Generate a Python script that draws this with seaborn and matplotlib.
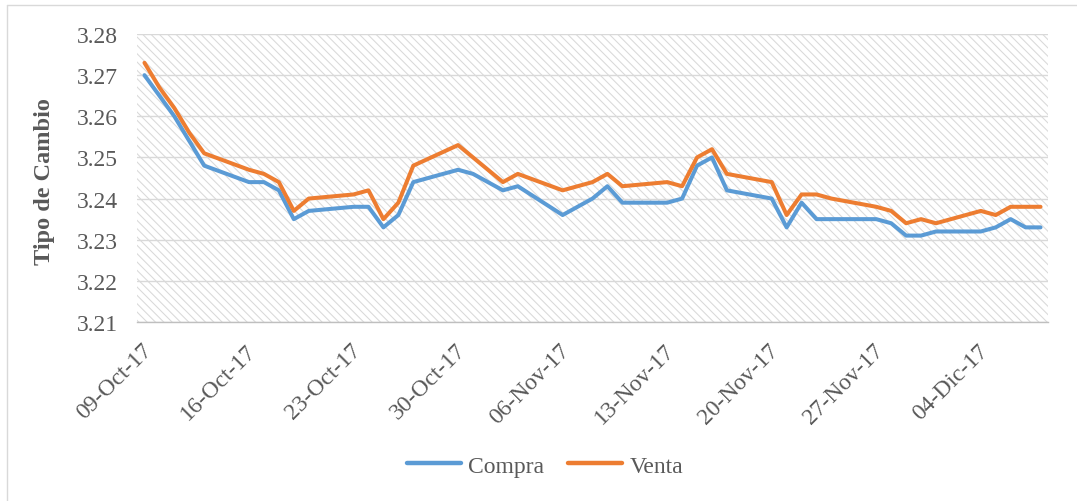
import numpy as np
import pandas as pd
import matplotlib
matplotlib.use("Agg")
import matplotlib.pyplot as plt
import matplotlib.dates as mdates
import matplotlib.transforms as mtransforms
from matplotlib.patches import Rectangle
from matplotlib.lines import Line2D
import seaborn as sns

# Daily exchange rate (business days)
fechas = [
    "2017-10-09", "2017-10-10", "2017-10-11", "2017-10-12", "2017-10-13",
    "2017-10-16", "2017-10-17", "2017-10-18", "2017-10-19", "2017-10-20",
    "2017-10-23", "2017-10-24", "2017-10-25", "2017-10-26", "2017-10-27",
    "2017-10-30", "2017-10-31", "2017-11-02", "2017-11-03",
    "2017-11-06", "2017-11-07", "2017-11-08", "2017-11-09", "2017-11-10",
    "2017-11-13", "2017-11-14", "2017-11-15", "2017-11-16", "2017-11-17",
    "2017-11-20", "2017-11-21", "2017-11-22", "2017-11-23", "2017-11-24",
    "2017-11-27", "2017-11-28", "2017-11-29", "2017-11-30", "2017-12-01",
    "2017-12-04", "2017-12-05", "2017-12-06", "2017-12-07", "2017-12-08",
]
compra = [
    3.270, 3.265, 3.260, 3.254, 3.248,
    3.244, 3.244, 3.242, 3.235, 3.237,
    3.238, 3.238, 3.233, 3.236, 3.244,
    3.247, 3.246, 3.242, 3.243,
    3.236, 3.238, 3.240, 3.243, 3.239,
    3.239, 3.240, 3.248, 3.250, 3.242,
    3.240, 3.233, 3.239, 3.235, 3.235,
    3.235, 3.234, 3.231, 3.231, 3.232,
    3.232, 3.233, 3.235, 3.233, 3.233,
]
venta = [
    3.273, 3.267, 3.262, 3.256, 3.251,
    3.247, 3.246, 3.244, 3.237, 3.240,
    3.241, 3.242, 3.235, 3.239, 3.248,
    3.253, 3.250, 3.244, 3.246,
    3.242, 3.243, 3.244, 3.246, 3.243,
    3.244, 3.243, 3.250, 3.252, 3.246,
    3.244, 3.236, 3.241, 3.241, 3.240,
    3.238, 3.237, 3.234, 3.235, 3.234,
    3.237, 3.236, 3.238, 3.238, 3.238,
]
semanas = [
    "2017-10-09", "2017-10-16", "2017-10-23", "2017-10-30", "2017-11-06",
    "2017-11-13", "2017-11-20", "2017-11-27", "2017-12-04",
]
etiquetas_semanas = [
    "09-Oct-17", "16-Oct-17", "23-Oct-17", "30-Oct-17", "06-Nov-17",
    "13-Nov-17", "20-Nov-17", "27-Nov-17", "04-Dic-17",
]
series = ["Compra", "Venta"]
colores = ["#5B9BD5", "#ED7D31"]

sns.set_theme(style="white")
plt.rcParams["font.family"] = ["Liberation Serif", "DejaVu Serif"]
plt.rcParams["hatch.color"] = "#d9d9d9"
plt.rcParams["hatch.linewidth"] = 0.75

df = pd.DataFrame({"Fecha": pd.to_datetime(fechas), "Compra": compra, "Venta": venta})
largo = df.melt(id_vars="Fecha", value_vars=series, var_name="Tipo", value_name="Valor")

W, H = 1077, 502
fig = plt.figure(figsize=(W / 100, H / 100), dpi=100)
left, right, top, bottom = 137, 1048, 35, 323
ax = fig.add_axes([left / W, 1 - bottom / H, (right - left) / W, (bottom - top) / H])

# hatched plot-area background
ax.add_patch(Rectangle((0, 0), 1, 1, transform=ax.transAxes, facecolor="white",
                       edgecolor="#d9d9d9", hatch="\\\\\\\\", linewidth=0, zorder=0))

sns.lineplot(data=largo, x="Fecha", y="Valor", hue="Tipo", hue_order=series,
             palette=colores, linewidth=2.9, ax=ax, legend=False, zorder=3,
             solid_joinstyle="round", solid_capstyle="round")

num = mdates.date2num(df["Fecha"])
ax.set_xlim(num[0] - 0.5, num[-1] + 0.5)
ax.set_ylim(3.21, 3.28)
ax.set_yticks(np.round(np.arange(3.21, 3.2801, 0.01), 2))
ax.yaxis.set_major_formatter(matplotlib.ticker.FormatStrFormatter("%.2f"))
ax.yaxis.grid(True, color="#d9d9d9", linewidth=1.0)
ax.xaxis.grid(False)
ax.set_axisbelow(True)

pos_semanas = mdates.date2num(pd.to_datetime(semanas))
ax.set_xticks(pos_semanas)
ax.set_xticklabels(etiquetas_semanas, rotation=45, ha="right", va="center",
                   rotation_mode="anchor")
ax.set_xticks(pos_semanas - 0.5, minor=True)
ax.tick_params(axis="x", which="major", length=0, pad=18, labelsize=17, labelcolor="#595959")
ax.tick_params(axis="x", which="minor", length=5, width=1, color="#bfbfbf", direction="out")
ax.tick_params(axis="y", length=0, pad=14, labelsize=17, labelcolor="#595959")
desplazamiento = mtransforms.ScaledTranslation(4 / 100, 0, fig.dpi_scale_trans)
for lbl in ax.get_xticklabels():
    lbl.set_transform(lbl.get_transform() + desplazamiento)

for s in ["left", "top", "right"]:
    ax.spines[s].set_visible(False)
ax.spines["bottom"].set_color("#bfbfbf")
ax.spines["bottom"].set_linewidth(1.0)

ax.set_xlabel("")
ax.set_ylabel("Tipo de Cambio", fontsize=17.5, fontweight="bold", color="#595959")
ax.yaxis.label.set_va("center")
ax.yaxis.set_label_coords((45 - left) / (right - left), 0.49)

handles = [Line2D([], [], color=c, linewidth=3.2) for c in colores]
fig.legend(handles, series, loc="center", bbox_to_anchor=(545 / W, 1 - 467 / H),
           ncol=2, frameon=False, fontsize=17, labelcolor="#595959",
           handlelength=2.3, handletextpad=0.3, columnspacing=1.0)

# chart border
fig.add_artist(Line2D([6.5 / W, 6.5 / W], [0, 1 - 5.5 / H], transform=fig.transFigure,
                      color="#d9d9d9", linewidth=1))
fig.add_artist(Line2D([6.5 / W, 1], [1 - 5.5 / H, 1 - 5.5 / H], transform=fig.transFigure,
                      color="#d9d9d9", linewidth=1))

fig.savefig("out.png", dpi=100)
